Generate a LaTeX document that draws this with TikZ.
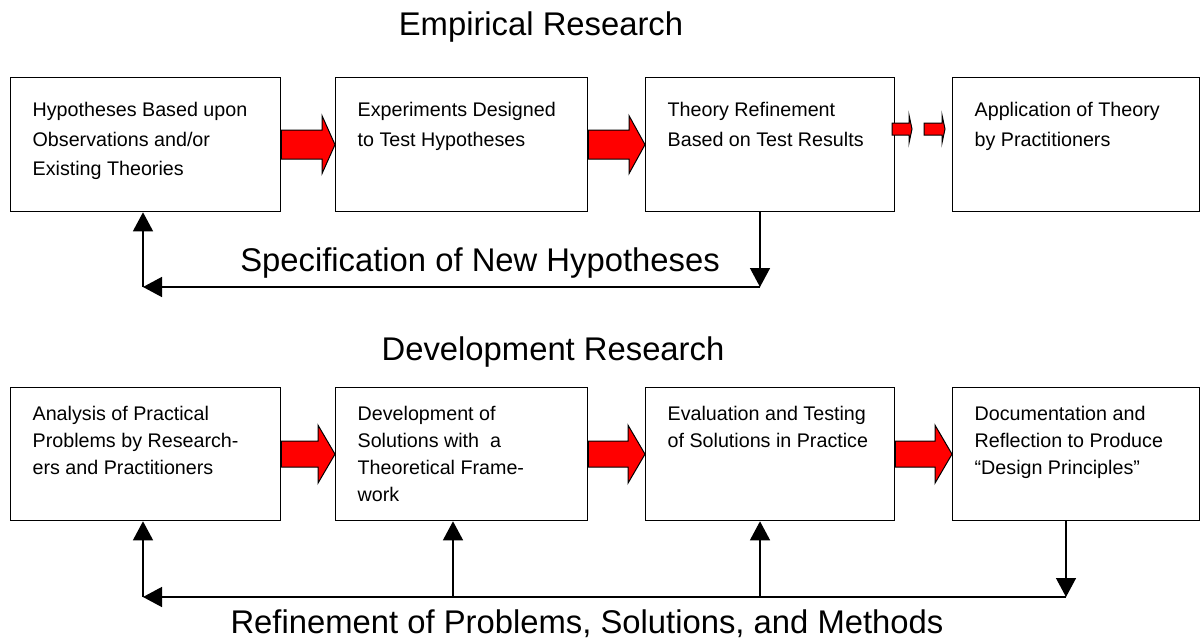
\documentclass[tikz,border=0pt]{standalone}
\usepackage{fontspec}
\setmainfont{Liberation Sans}
\usetikzlibrary{calc,arrows.meta}
\newcommand{\stagetext}[4]{\parbox[t][#2pt][t]{#1pt}{\raggedright\leftskip=22pt\vspace*{#3pt}#4}}
\newcommand{\redarrow}[5]{\draw[redarrow] ($(#1)+(0,-#4)$) -- ($(#2)+(-#3,-#4)$) -- ($(#2)+(-#3,-#5)$) -- (#2) -- ($(#2)+(-#3,#5)$) -- ($(#2)+(-#3,#4)$) -- ($(#1)+(0,#4)$) -- cycle;}
\begin{document}
\begin{tikzpicture}[x=1pt,y=-1pt,>={Triangle[length=19pt,width=20pt]},
  stage/.style={draw,line width=1.3pt,anchor=north west,inner sep=0pt},
  toprow/.style={stage,font=\fontsize{19.7}{29.5}\selectfont},
  botrow/.style={stage,font=\fontsize{19.7}{27}\selectfont},
  heading/.style={anchor=base,font=\fontsize{32.8}{38}\selectfont},
  redarrow/.style={fill=red,draw=black,line width=1pt,line join=miter},
  loop/.style={line width=1.4pt}]
\useasboundingbox (0,0) rectangle (1201,640);

% empirical research
\node[heading] (emp) at (541,35) {Empirical Research};
\node[toprow] (t1) at (10,77) {\stagetext{270}{134}{25}{Hypotheses Based upon\\Observations and/or\\Existing Theories}};
\node[toprow] (t2) at (335,77) {\stagetext{252}{134}{25}{Experiments Designed\\to Test Hypotheses}};
\node[toprow] (t3) at (645,77) {\stagetext{249}{134}{25}{Theory Refinement\\Based on Test Results}};
\node[toprow] (t4) at (952,77) {\stagetext{247}{134}{25}{Application of Theory\\by Practitioners}};
\redarrow{t1.east}{t2.west}{13}{14.5}{29}
\redarrow{t2.east}{t3.west}{16}{14.5}{29}
\coordinate (d1) at (892,129);
\coordinate (d1tip) at (912,129);
\coordinate (d2) at (924,129);
\coordinate (d2tip) at (945,129);
\redarrow{d1}{d1tip}{3}{6}{14}
\redarrow{d2}{d2tip}{3}{6}{14}

\node[heading] (spec) at (480,271) {Specification of New Hypotheses};
\coordinate (s1) at (760,287);
\coordinate (s2) at (143,287);
\draw[loop,->] (t3.south -| s1) -- (s1);
\draw[loop,->] (s1) -- (s2);
\draw[loop,->] (s2) -- (s2 |- t1.south);

% development research
\node[heading] (dev) at (553,360) {Development Research};
\node[botrow] (b1) at (10,387) {\stagetext{270}{133}{19}{Analysis of Practical\\Problems by Research-\\ers and Practitioners}};
\node[botrow] (b2) at (335,387) {\stagetext{252}{133}{19}{Development of\\Solutions with \ a\\Theoretical Frame-\\work}};
\node[botrow] (b3) at (645,387) {\stagetext{249}{133}{19}{Evaluation and Testing\\of Solutions in Practice}};
\node[botrow] (b4) at (952,387) {\stagetext{247}{133}{19}{Documentation and\\Reflection to Produce\\“Design Principles”}};
\redarrow{b1.east}{b2.west}{17}{13}{29}
\redarrow{b2.east}{b3.west}{17}{13}{29}
\redarrow{b3.east}{b4.west}{17}{13}{29}

\node[heading] (ref) at (587,633) {Refinement of Problems, Solutions, and Methods};
\coordinate (r1) at (1066,597);
\coordinate (r0) at (143,597);
\coordinate (r2) at (453,597);
\coordinate (r3) at (760,597);
\draw[loop,->] (b4.south -| r1) -- (r1);
\draw[loop,->] (r1) -- (r0);
\draw[loop,->] (r0) -- (r0 |- b1.south);
\draw[loop,->] (r2) -- (r2 |- b2.south);
\draw[loop,->] (r3) -- (r3 |- b3.south);

\end{tikzpicture}
\end{document}
